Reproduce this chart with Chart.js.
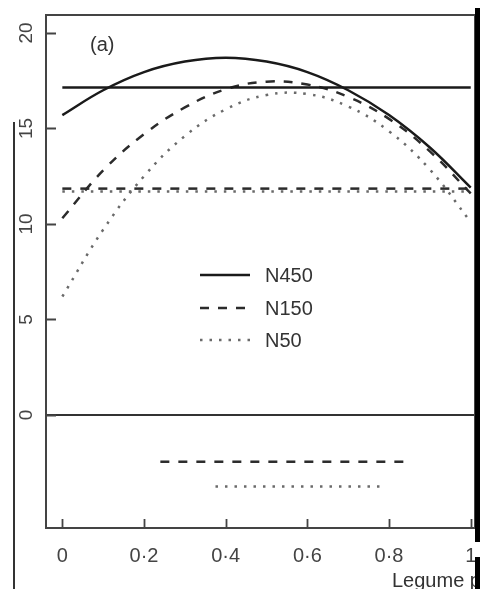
<!DOCTYPE html>
<html>
<head>
<meta charset="utf-8">
<script src="https://cdn.jsdelivr.net/npm/chart.js@4"></script>
<style>
  html, body { margin: 0; padding: 0; background: #fff; }
  #wrap { position: relative; width: 480px; height: 589px; overflow: hidden; }
  #chart { position: absolute; left: 0; top: 0; }
  .bar { position: absolute; background: #000; }
  .txt { position: absolute; font-family: "Liberation Sans", Arial, sans-serif; color: #333; line-height: 20px; white-space: nowrap; }
</style>
</head>
<body>
<div id="wrap">
  <canvas id="chart" width="480" height="589"></canvas>
  <div class="bar" style="left:13px;top:122px;width:1.5px;height:467px;background:#333;"></div>
  <div class="txt" style="left:392px;top:570px;font-size:20px;">Legume p</div>
  <div class="bar" style="left:475px;top:8px;width:5px;height:534px;"></div>
  <div class="bar" style="left:475px;top:557px;width:5px;height:32px;"></div>
</div>
<script>
// values
const legumeX = [0, 0.1, 0.2, 0.3, 0.4, 0.5, 0.6, 0.7, 0.8, 0.9, 1];
const n450 = [15.7, 17.0, 17.95, 18.5, 18.7, 18.5, 17.95, 17.0, 15.7, 14.0, 11.9];
const n150 = [10.3, 12.8, 14.7, 16.1, 17.05, 17.45, 17.3, 16.65, 15.5, 13.8, 11.6];
const n50 = [6.2, 9.7, 12.5, 14.6, 16.0, 16.75, 16.8, 16.15, 14.85, 12.85, 10.1];

// sole-crop reference levels (flat lines across 0..1)
const flatX = [0, 1];
const n450Flat = 17.15;
const n150Flat = 11.85;
const n50Flat = 11.7;

// ranges shown under the zero line
const n150Range = [0.24, 0.855];
const n150RangeY = -2.45;
const n50Range = [0.375, 0.79];
const n50RangeY = -3.75;

const zeroY = 0;
const xMin = -0.04, xMax = 1.0105;
const yMin = -5.92, yMax = 20.94;
const xTicks = [0, 0.2, 0.4, 0.6, 0.8, 1];
const xTickLabels = ['0', '0·2', '0·4', '0·6', '0·8', '1'];
const yTicks = [0, 5, 10, 15, 20];
const legendNames = ['N450', 'N150', 'N50'];

const FONT = '"Liberation Sans", Arial, sans-serif';
const SOLID = { color: '#1a1a1a', width: 2.5, dash: [] };
const DASH = { color: '#2b2b2b', width: 2.5, dash: [9, 9] };
const DOT = { color: '#6a6a6a', width: 2.5, dash: [2.5, 7] };

const pts = (xs, ys) => xs.map((x, i) => ({ x, y: ys[i] }));
const flat = (xs, y) => xs.map(x => ({ x, y }));

function line(data, st, tension) {
  return {
    data, showLine: true, pointRadius: 0, fill: false,
    borderColor: st.color, borderWidth: st.width, borderDash: st.dash,
    borderCapStyle: 'butt', tension: tension || 0
  };
}

const datasets = [
  line(flat([xMin, xMax], zeroY), { color: '#333', width: 2, dash: [] }),
  line(flat(flatX, n450Flat), SOLID),
  line(flat(flatX, n150Flat), DASH),
  line(flat(flatX, n50Flat), DOT),
  line(pts(legumeX, n450), SOLID, 0.4),
  line(pts(legumeX, n150), DASH, 0.4),
  line(pts(legumeX, n50), DOT, 0.4),
  line(flat(n150Range, n150RangeY), DASH),
  line(flat(n50Range, n50RangeY), DOT)
];

// frame, inward ticks, panel tag and legend
const decor = {
  id: 'decor',
  afterDatasetsDraw(chart) {
    const { ctx, chartArea: a, scales: { x, y } } = chart;
    ctx.save();
    ctx.strokeStyle = '#444';
    ctx.lineWidth = 2;
    ctx.setLineDash([]);
    ctx.strokeRect(a.left, a.top, a.right - a.left, a.bottom - a.top);
    ctx.lineWidth = 1.8;
    ctx.beginPath();
    yTicks.forEach(v => {
      const py = Math.round(y.getPixelForValue(v)) + 0.5;
      ctx.moveTo(a.left, py); ctx.lineTo(a.left + 10, py);
    });
    xTicks.forEach(v => {
      const px = Math.round(x.getPixelForValue(v)) + 0.5;
      ctx.moveTo(px, a.bottom); ctx.lineTo(px, a.bottom - 9);
    });
    ctx.stroke();

    ctx.fillStyle = '#333';
    ctx.font = '20px ' + FONT;
    ctx.textBaseline = 'middle';
    ctx.fillText('(a)', 90, 45);

    const styles = [SOLID, DASH, DOT];
    const rowY = [275, 308, 340];
    legendNames.forEach((name, i) => {
      const st = styles[i];
      ctx.strokeStyle = st.color;
      ctx.lineWidth = st.width;
      ctx.setLineDash(st.dash);
      ctx.beginPath();
      ctx.moveTo(200, rowY[i]); ctx.lineTo(250, rowY[i]);
      ctx.stroke();
      ctx.fillText(name, 265, rowY[i] + 1);
    });
    ctx.restore();
  }
};

new Chart(document.getElementById('chart'), {
  type: 'scatter',
  data: { datasets },
  options: {
    responsive: false,
    animation: false,
    layout: { padding: { top: 15, right: 5, left: 0, bottom: 0 } },
    plugins: { legend: { display: false }, tooltip: { enabled: false } },
    scales: {
      x: {
        type: 'linear', min: xMin, max: xMax,
        afterBuildTicks: s => { s.ticks = xTicks.map(v => ({ value: v })); },
        afterFit: s => { s.height = 61; s.paddingLeft = 0; s.paddingRight = 0; },
        grid: { display: false },
        border: { display: false },
        ticks: {
          padding: 8, color: '#444', font: { family: FONT, size: 20 },
          maxRotation: 0, autoSkip: false,
          callback: (v) => xTickLabels[xTicks.indexOf(v)]
        }
      },
      y: {
        type: 'linear', min: yMin, max: yMax,
        afterBuildTicks: s => { s.ticks = yTicks.map(v => ({ value: v })); },
        afterFit: s => { s.width = 46; s.paddingTop = 0; s.paddingBottom = 0; },
        grid: { display: false },
        border: { display: false },
        ticks: {
          padding: 1, color: '#444', font: { family: FONT, size: 19 },
          minRotation: 90, maxRotation: 90, crossAlign: 'center', autoSkip: false
        }
      }
    }
  },
  plugins: [decor]
});
</script>
</body>
</html>
